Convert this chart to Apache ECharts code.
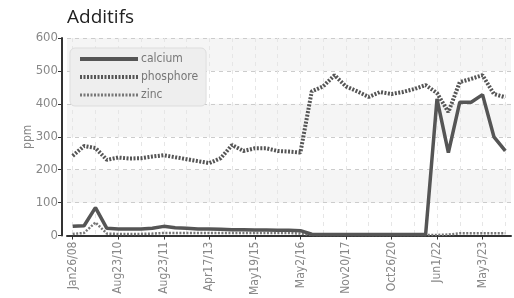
<!DOCTYPE html>
<html>
<head>
<meta charset="utf-8">
<script src="https://cdn.jsdelivr.net/npm/echarts@6/dist/echarts.min.js"></script>
<style>
  html, body { margin: 0; padding: 0; background: #fff; }
  #chart { width: 514px; height: 298px; }
</style>
</head>
<body>
<div id="chart"></div>
<script>
  // labels only every 4th sample, the rest are blank
  const tickLabels = ['Jan26/08', 'Aug23/10', 'Aug23/11', 'Apr17/13', 'May19/15',
    'May2/16', 'Nov20/17', 'Oct26/20', 'Jun1/22', 'May3/23']
  const categories = []
  for (let i = 0; i < 39; i++) {
    categories.push(i % 4 === 0 ? tickLabels[i / 4] : ' '.repeat(i))
  }

  const calcium = [28, 30, 85, 22, 20, 20, 20, 22, 28, 24, 22, 20, 20, 19, 18, 18, 17, 17, 16, 16, 15,
    4, 3, 3, 3, 3, 3, 3, 3, 3, 3, 3,
    415, 252, 405, 405, 428, 300, 257]
  const phosphore = [242, 272, 266, 230, 237, 234, 235, 240, 244, 238, 232, 226, 220, 235, 275, 257, 265, 265, 257, 255, 252,
    438, 453, 487, 453, 438, 421, 436, 430, 436, 445, 457,
    433, 375, 466, 476, 487, 430, 420]
  const zinc = [5, 8, 40, 6, 5, 5, 5, 6, 8, 8, 8, 8, 8, 8, 8, 8, 8, 8, 8, 8, 6,
    2, 2, 2, 2, 2, 2, 2, 2, 2, 2, 2,
    2, 3, 7, 7, 7, 7, 7]

  const font = "'DejaVu Sans Condensed', 'Liberation Sans Narrow', Roboto, sans-serif"

  const chart = echarts.init(document.getElementById('chart'))
  const option = {
    animation: false,
    title: {
      text: 'Additifs',
      left: 62,
      top: 3,
      textStyle: { fontFamily: "'Open Sans', sans-serif", fontSize: 19, fontWeight: 'normal', color: '#222' }
    },
    legend: {
      orient: 'vertical',
      left: 70,
      top: 48,
      backgroundColor: '#eeeeee',
      borderColor: '#dddddd',
      borderWidth: 1,
      borderRadius: 5,
      padding: [5, 8, 5, 8],
      itemWidth: 58,
      itemHeight: 10,
      itemGap: 6,
      itemStyle: { opacity: 0 },
      textStyle: { fontFamily: font, fontSize: 12, color: '#777', padding: [0, 0, 0, -2] },
      data: [
        { name: 'calcium', lineStyle: { width: 4 } },
        { name: 'phosphore', lineStyle: { width: 4 } },
        { name: 'zinc', lineStyle: { width: 3 } }
      ]
    },
    grid: { left: 67, right: 3, top: 38, bottom: 61 },
    xAxis: [
      {
        type: 'category',
        data: categories,
        boundaryGap: true,
        axisLine: { lineStyle: { color: '#333', width: 2 } },
        axisTick: { show: true, alignWithLabel: true, interval: 3, length: 4, lineStyle: { color: '#333' } },
        axisLabel: { interval: 3, rotate: 90, fontFamily: font, fontSize: 12, color: '#888', margin: 6 },
        splitLine: { show: true, alignWithLabel: true, interval: 3, lineStyle: { type: [4, 4], color: '#cccccc' } }
      },
      {
        // lighter lines in between the labelled ones
        type: 'category',
        data: categories,
        boundaryGap: true,
        position: 'bottom',
        axisLine: { show: false },
        axisTick: { show: false },
        axisLabel: { show: false },
        splitLine: { show: true, alignWithLabel: true, interval: 1, lineStyle: { type: [4, 4], color: '#e6e6e6' } }
      }
    ],
    yAxis: {
      type: 'value',
      min: 0,
      max: 600,
      interval: 100,
      offset: 5,
      name: 'ppm',
      nameLocation: 'middle',
      nameRotate: 90,
      nameGap: 28,
      nameMoveOverlap: false,
      nameTextStyle: { fontFamily: font, fontSize: 12, color: '#888' },
      axisLine: { show: true, lineStyle: { color: '#333', width: 2 } },
      axisTick: { show: true, length: 4, lineStyle: { color: '#333' } },
      axisLabel: { fontFamily: font, fontSize: 13, color: '#888', margin: 4 },
      splitLine: { lineStyle: { type: [4, 4], color: '#cccccc' } },
      splitArea: { show: true, areaStyle: { color: ['rgba(255,255,255,0)', '#f5f5f5'] } }
    },
    series: [
      {
        name: 'calcium',
        type: 'line',
        data: calcium,
        showSymbol: false,
        symbol: 'none',
        lineStyle: { color: '#555', width: 3.5 },
        itemStyle: { color: '#555' },
        z: 4
      },
      {
        name: 'phosphore',
        type: 'line',
        data: phosphore,
        showSymbol: false,
        symbol: 'none',
        lineStyle: { color: '#555', width: 4, type: [2, 1.5] },
        itemStyle: { color: '#555' },
        z: 3
      },
      {
        name: 'zinc',
        type: 'line',
        data: zinc,
        showSymbol: false,
        symbol: 'none',
        lineStyle: { color: '#777', width: 2.5, type: [2, 1.5] },
        itemStyle: { color: '#777' },
        z: 2
      }
    ]
  }
  chart.setOption(option)
</script>
</body>
</html>
